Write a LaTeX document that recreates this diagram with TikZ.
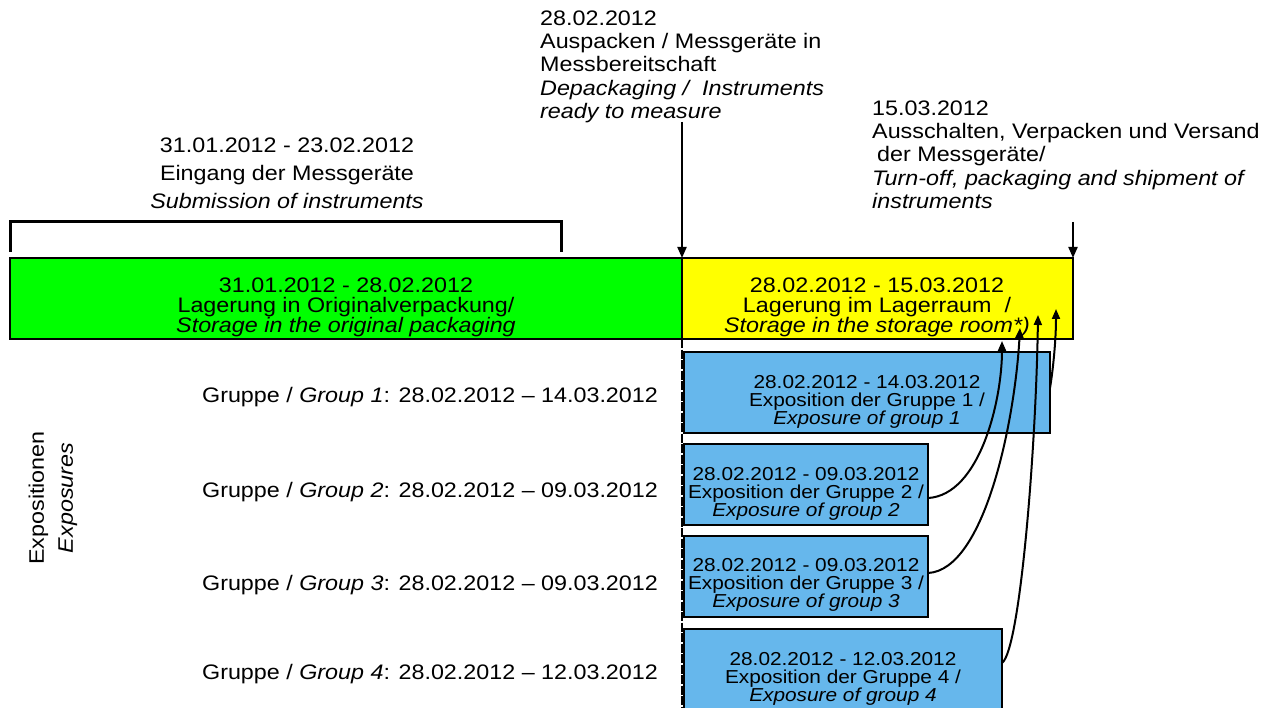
\documentclass[tikz,border=0pt]{standalone}
\usepackage{fontspec}
\setmainfont{Liberation Sans}[FakeStretch=1.11]
\usetikzlibrary{arrows.meta,calc}
\definecolor{gGreen}{RGB}{0,255,0}
\definecolor{gYellow}{RGB}{255,255,0}
\definecolor{gBlue}{RGB}{102,183,236}
\begin{document}
\begin{tikzpicture}[x=1pt,y=-1pt,
  box/.style={draw=black, line width=2pt, inner sep=0pt, outer sep=0pt, anchor=north west},
  bigtext/.style={align=center, inner sep=0pt, font=\fontsize{21}{20}\selectfont},
  bluetext/.style={align=center, inner sep=0pt, font=\fontsize{18.75}{18}\selectfont},
  toptext/.style={inner sep=0pt, font=\fontsize{21}{23.3}\selectfont},
  grouplabel/.style={inner sep=0pt, font=\fontsize{21}{23}\selectfont},
  conn/.style={line width=2pt, -{Triangle[length=11pt,width=9pt]}},
  curve/.style={line width=2pt, -{Triangle[length=10pt,width=8pt]}},
  ]
\useasboundingbox (0,0) rectangle (1276,708);

% top texts
\node[toptext, align=center, anchor=north, font=\fontsize{21}{28}\selectfont] (subm) at (287,137.5)
  {31.01.2012 - 23.02.2012\\Eingang der Messgeräte\\\textit{Submission of instruments}};
\node[toptext, align=left, anchor=north west] (unpack) at (540,10.5)
  {28.02.2012\\Auspacken / Messgeräte in\\Messbereitschaft\\\textit{Depackaging /\ \ Instruments}\\\textit{ready to measure}};
\node[toptext, align=left, anchor=north west] (ship) at (872,100.5)
  {15.03.2012\\Ausschalten, Verpacken und Versand\\\hspace*{5pt}der Messgeräte/\\\textit{Turn-off, packaging and shipment of}\\\textit{instruments}};

% bracket
\coordinate (brL) at (10,252);
\coordinate (brLt) at (10,222);
\coordinate (brRt) at (561,222);
\coordinate (brR) at (561,252);
\draw[line width=3pt] (brL) -- (brLt) -- (brRt) -- (brR);

% storage boxes
\node[box, fill=gGreen, minimum width=672pt, minimum height=81pt] (gbox) at (10,258) {};
\node[box, fill=gYellow, minimum width=391pt, minimum height=81pt] (ybox) at (682,258) {};
\node[bigtext] (gtext) at (346,307)
  {31.01.2012 - 28.02.2012\\Lagerung in Originalverpackung/\\\textit{Storage in the original packaging}};
\node[bigtext] (ytext) at (877,307.5)
  {28.02.2012 - 15.03.2012\\Lagerung im Lagerraum\ \ /\\\textit{Storage in the storage room*)}};

% exposure boxes
\node[box, fill=gBlue, minimum width=366pt, minimum height=81pt] (g1) at (684,352) {};
\node[box, fill=gBlue, minimum width=244pt, minimum height=81pt] (g2) at (684,444) {};
\node[box, fill=gBlue, minimum width=244pt, minimum height=81pt] (g3) at (684,536) {};
\node[box, fill=gBlue, minimum width=318pt, minimum height=85pt] (g4) at (684,629) {};
\node[bluetext] (g1t) at (867,401.5)
  {28.02.2012 - 14.03.2012\\Exposition der Gruppe 1 /\\\textit{Exposure of group 1}};
\node[bluetext] (g2t) at (806,494)
  {28.02.2012 - 09.03.2012\\Exposition der Gruppe 2 /\\\textit{Exposure of group 2}};
\node[bluetext] (g3t) at (806,585)
  {28.02.2012 - 09.03.2012\\Exposition der Gruppe 3 /\\\textit{Exposure of group 3}};
\node[bluetext] (g4t) at (843,679)
  {28.02.2012 - 12.03.2012\\Exposition der Gruppe 4 /\\\textit{Exposure of group 4}};

% group labels
\node[grouplabel] (l1) at (430,397.5) {Gruppe / \textit{Group 1}: 28.02.2012 – 14.03.2012};
\node[grouplabel] (l2) at (430,492.5) {Gruppe / \textit{Group 2}: 28.02.2012 – 09.03.2012};
\node[grouplabel] (l3) at (430,585) {Gruppe / \textit{Group 3}: 28.02.2012 – 09.03.2012};
\node[grouplabel] (l4) at (430,674) {Gruppe / \textit{Group 4}: 28.02.2012 – 12.03.2012};

\node[rotate=90, align=center, inner sep=0pt, font=\fontsize{21}{29}\selectfont] (expo) at (53,498)
  {Expositionen\\\textit{Exposures}};

% vertical arrows and dashed line
\coordinate (a1s) at (682,122);
\coordinate (a2s) at (1073,222);
\coordinate (dend) at (682,712);
\draw[conn] (a1s) -- (ybox.north west);
\draw[conn] (a2s) -- (ybox.north east);
\draw[line width=2.6pt, dash pattern=on 9pt off 1.5pt] (ybox.south west) -- (dend);

% return arrows
\coordinate (t1) at (1002,341);
\coordinate (t2) at (1020,328);
\coordinate (t3) at (1038,315);
\coordinate (t4) at (1056,309);
\draw[curve] ($(g2.north east)!0.667!(g2.south east)$) .. controls (980,495) and (1002,400) .. (t1);
\draw[curve] ($(g3.north east)!0.457!(g3.south east)$) .. controls (985,570) and (1015,420) .. (t2);
\draw[curve] ($(g4.north east)!0.4!(g4.south east)$) .. controls (1020,650) and (1036,450) .. (t3);
\draw[curve] ($(g1.north east)!0.444!(g1.south east)$) .. controls (1053,370) and (1056,340) .. (t4);
\end{tikzpicture}
\end{document}
